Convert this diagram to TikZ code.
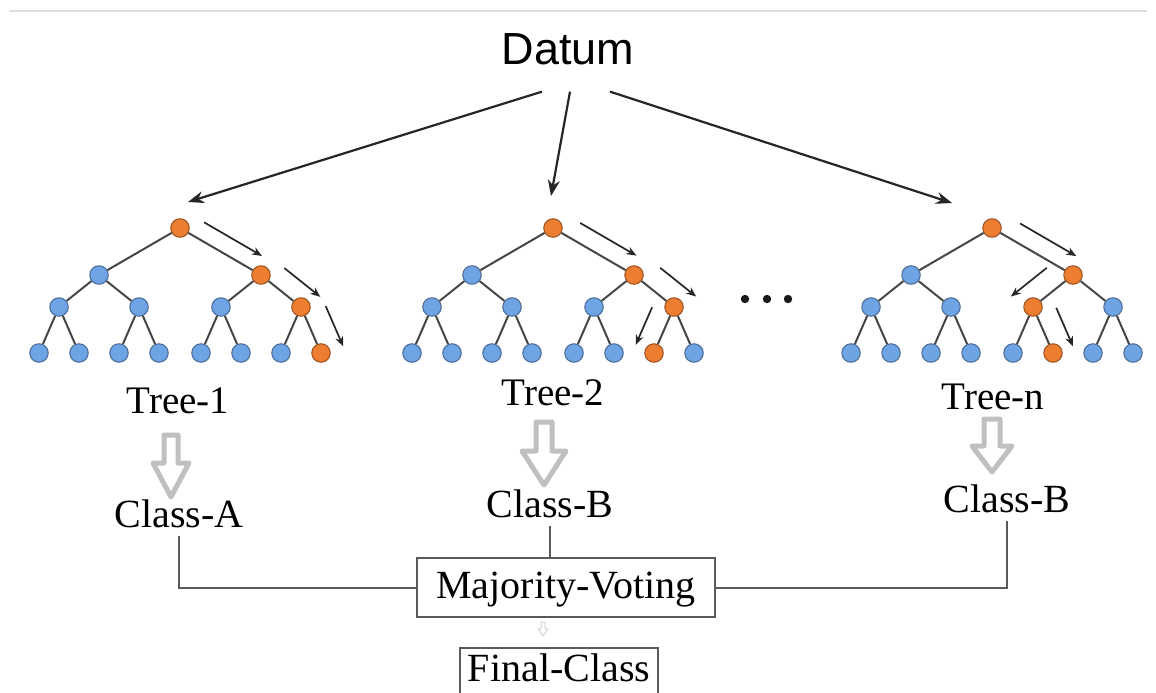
\documentclass[tikz,border=0pt]{standalone}
\usepackage{fontspec}
\setmainfont{Liberation Serif}
\newfontfamily\datumfont{Liberation Sans}
\usetikzlibrary{calc,arrows.meta}

\definecolor{nodeblue}{RGB}{110,163,228}
\definecolor{nodeorange}{RGB}{237,125,49}
\definecolor{edgegray}{RGB}{70,70,70}
\definecolor{linegray}{RGB}{90,90,90}
\definecolor{flowgray}{RGB}{192,192,192}
\definecolor{rulegray}{RGB}{222,222,222}

\tikzset{
  treenode/.style={circle,draw=#1!65!black,fill=#1,line width=1pt,minimum size=18.5pt,inner sep=0pt},
  treeedge/.style={draw=edgegray,line width=2pt},
  walk/.style={draw=black!85,line width=1.7pt,-{Stealth[length=10pt,width=8pt]}},
  split/.style={draw=black!85,line width=2.2pt,-{Stealth[length=16pt,width=12pt]}},
  treetag/.style={anchor=base,font=\fontsize{39}{44}\selectfont},
  classtag/.style={anchor=base,inner sep=8pt,font=\fontsize{40}{46}\selectfont},
  votebox/.style={draw=linegray,line width=2pt,minimum width=298pt,minimum height=59pt,
    text height=25pt,text depth=4pt,inner sep=0pt,font=\fontsize{40}{46}\selectfont},
  vline/.style={draw=linegray,line width=2pt},
  flow/.style={draw=flowgray,fill=white,line width=5pt,line join=round}
}

% one tree: prefix, centre x, hot nodes on levels 1-3
\newcommand{\votetree}[5]{%
  \foreach \k/\dx/\y in {1/0/228,2/-81/275,3/81/275,4/-121/307,5/-41/307,6/41/307,7/121/307,
      8/-141/353,9/-101/353,10/-61/353,11/-21/353,12/21/353,13/61/353,14/101/353,15/141/353}{
    \pgfmathtruncatemacro\hot{or(or(\k==1,\k==#3),or(\k==#4,\k==#5))}
    \ifnum\hot=1 \def\tint{nodeorange}\else\def\tint{nodeblue}\fi
    \node[treenode=\tint] (#1-\k) at (#2+\dx,\y) {};
  }
  \foreach \k in {1,...,7}{
    \pgfmathtruncatemacro\l{2*\k}
    \pgfmathtruncatemacro\r{2*\k+1}
    \path[treeedge] (#1-\k) -- (#1-\l) (#1-\k) -- (#1-\r);
  }
}

% arrow beside an edge: from, to, start, end, offset, turn
\newcommand{\walk}[6]{%
  \draw[walk] ($(#1)!#3!(#2)!#5!#6:(#1)$) -- ($(#1)!#4!(#2)!#5!#6:(#1)$);}

% hollow block arrow: x, top, head start, tip, shaft half, head half
\newcommand{\flowarrow}[7][]{%
  \draw[flow,#1] (#2-#6,#3) -- (#2+#6,#3) -- (#2+#6,#4) -- (#2+#7,#4) -- (#2,#5)
    -- (#2-#7,#4) -- (#2-#6,#4) -- cycle;}

\begin{document}
\begin{tikzpicture}[x=1pt,y=-1pt]
  \clip (0,0) rectangle (1156,693);
  \fill[white] (0,0) rectangle (1156,693);
  \draw[rulegray,line width=2pt] (9,11) -- (1147,11);

  \node[anchor=base,inner xsep=0pt,inner ysep=26pt,font=\datumfont\fontsize{45}{54}\selectfont]
    (datum) at (568,65) {Datum};

  \votetree{tree1}{180}{3}{7}{15}
  \votetree{tree2}{553}{3}{7}{14}
  \votetree{treen}{992}{3}{6}{13}

  \coordinate (in1) at (188,202);
  \coordinate (in2) at (551,196);
  \coordinate (inn) at (952,203);
  \draw[split] ([xshift=-26pt]datum.south) -- (in1);
  \draw[split] ([xshift=2pt]datum.south) -- (in2);
  \draw[split] ([xshift=42pt]datum.south) -- (inn);

  \walk{tree1-1}{tree1-3}{18pt}{85pt}{17pt}{-90}
  \walk{tree1-3}{tree1-7}{14pt}{60pt}{20pt}{-90}
  \walk{tree1-7}{tree1-15}{9pt}{53pt}{23pt}{-90}
  \walk{tree2-1}{tree2-3}{21pt}{86pt}{18pt}{-90}
  \walk{tree2-3}{tree2-7}{16pt}{62pt}{22pt}{-90}
  \walk{tree2-7}{tree2-14}{9pt}{50pt}{20pt}{90}
  \walk{treen-1}{treen-3}{22pt}{87pt}{18pt}{-90}
  \walk{treen-3}{treen-6}{16pt}{62pt}{22pt}{90}
  \walk{treen-6}{treen-13}{10pt}{52pt}{21pt}{-90}

  \foreach \x in {745,767,788}
    \fill[black!90] (\x,299) circle (4.2pt);

  \node[treetag] (tag1) at (178,413) {Tree-1};
  \node[treetag] (tag2) at (553,405) {Tree-2};
  \node[treetag] (tagn) at (993,409) {Tree-n};

  \flowarrow{171}{435}{463}{497}{7}{18}
  \flowarrow{544}{422}{451}{485}{8}{22}
  \flowarrow{992}{419}{446}{472}{8}{20}

  \node[classtag] (cls1) at (179,527) {Class-A};
  \node[classtag] (cls2) at (550,517) {Class-B};
  \node[classtag] (clsn) at (1007,512) {Class-B};

  \node[votebox] (vote) at (566,587.5) {Majority-Voting};
  \node[votebox,anchor=north,minimum width=198pt,minimum height=0pt,inner ysep=8pt,text depth=12pt]
    (final) at (559,647) {Final-Class};
  \flowarrow[line width=1pt,draw=flowgray!70]{543}{622}{629}{636}{2}{5}

  \draw[vline] (cls1.south) |- (vote.west);
  \draw[vline] (cls2.south) -- (cls2.south |- vote.north);
  \draw[vline] (clsn.south) |- (vote.east);
\end{tikzpicture}
\end{document}
